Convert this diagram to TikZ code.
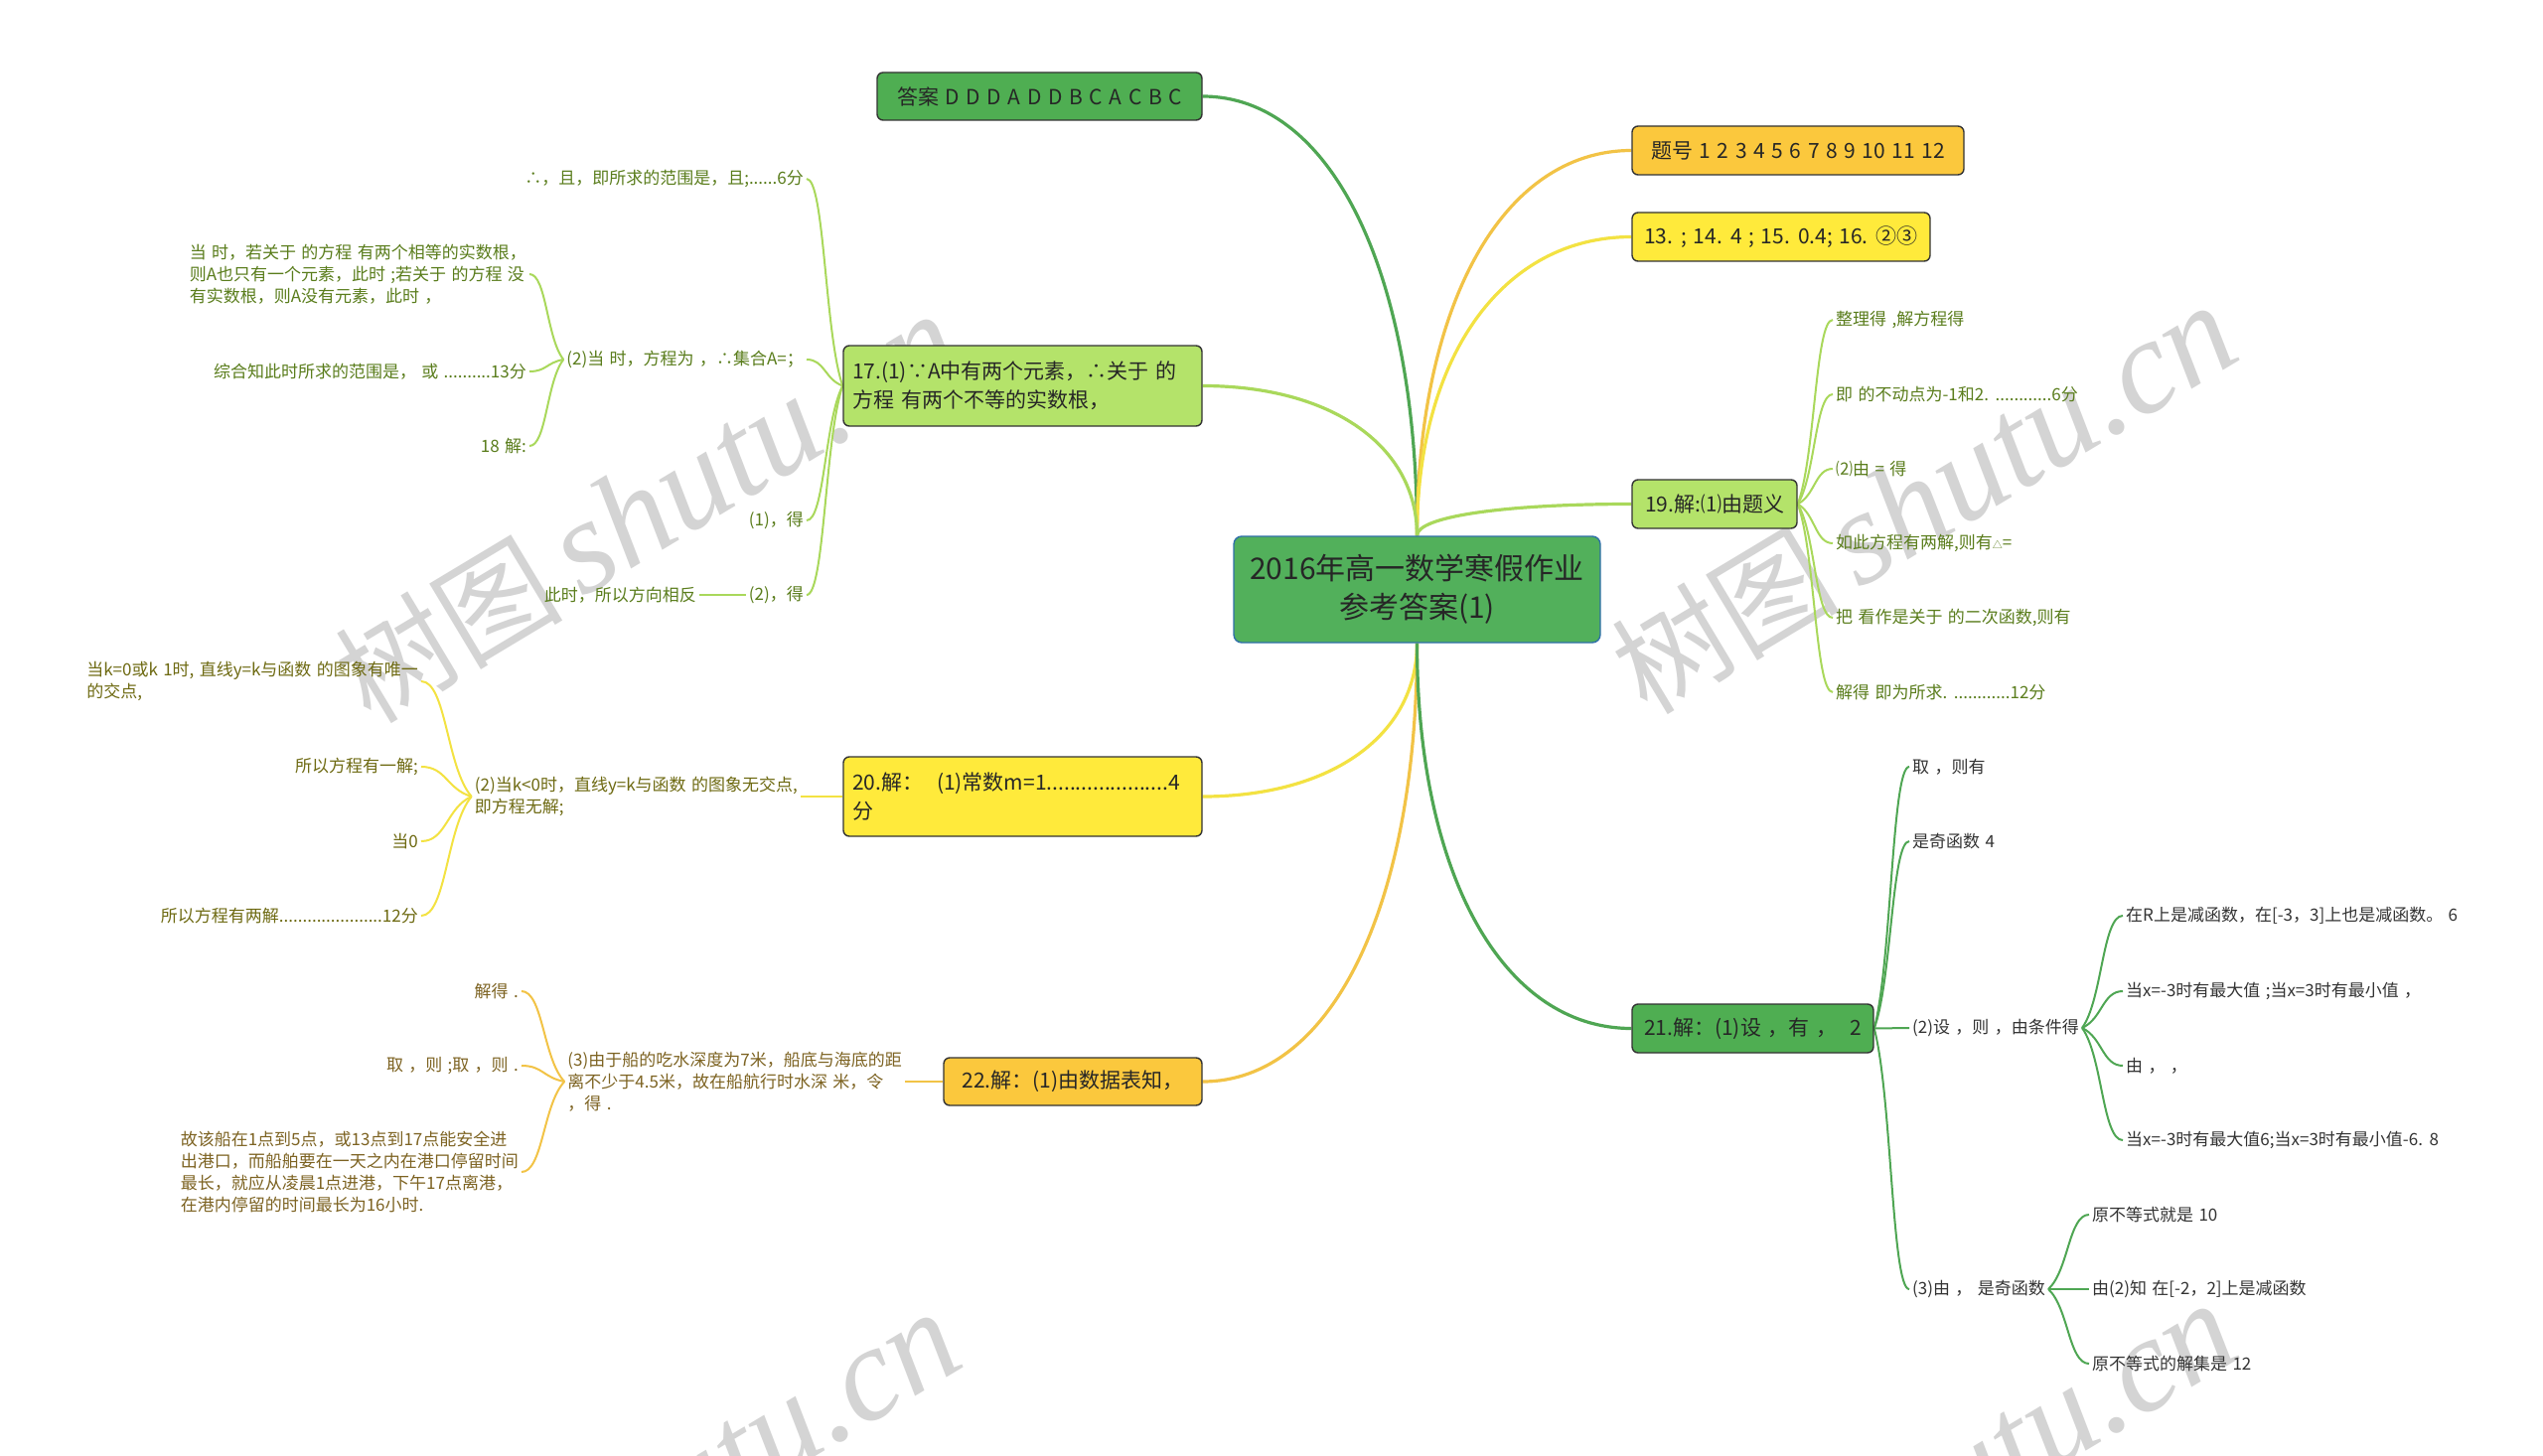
\documentclass[tikz,border=0pt]{standalone}
\usepackage{fontspec}
\setmainfont{Noto Sans CJK SC}[WordSpace=1.4]
\newfontfamily\wmfont{Liberation Serif}
\usetikzlibrary{calc,backgrounds}
\definecolor{cgreen}{HTML}{4FAE52}
\definecolor{cgreenline}{HTML}{4FA653}
\definecolor{clime}{HTML}{B4E36A}
\definecolor{climeline}{HTML}{A9D85B}
\definecolor{cyellow}{HTML}{FFEA3B}
\definecolor{cyellowline}{HTML}{F3E242}
\definecolor{corange}{HTML}{FBC83D}
\definecolor{corangeline}{HTML}{F2C346}
\definecolor{ccenter}{HTML}{52B05B}
\definecolor{ccenterborder}{HTML}{2F6FA8}
\definecolor{tlime}{HTML}{5A7D1C}
\definecolor{tyellow}{HTML}{6E6A12}
\definecolor{torange}{HTML}{7D6322}
\definecolor{tdark}{HTML}{333333}
\definecolor{wm}{HTML}{D4D4D4}
\begin{document}
\begin{tikzpicture}[x=1pt,y=1pt,
  box/.style={draw=black!80, line width=1.4pt, rounded corners=6pt, inner sep=0pt, text=black!85, font=\fontsize{21}{29}\selectfont},
  leaf/.style={inner sep=3pt, align=left, font=\fontsize{17}{22}\selectfont},
  trunk/.style={line width=3.2pt, to path={let \p1=(\tikztostart), \p2=(\tikztotarget) in .. controls (\x1,{\y1+0.6*(\y2-\y1)}) and ({\x1+0.4*(\x2-\x1)},\y2) .. (\tikztotarget)}},
  kid/.style={line width=2pt, to path={let \p1=(\tikztostart), \p2=(\tikztotarget) in .. controls ({\x1+0.5*(\x2-\x1)},{\y1+0.25*(\y2-\y1)}) and ({\x1+0.5*(\x2-\x1)},\y2) .. (\tikztotarget)}},
  wmark/.style={rotate=31, text=wm, font=\fontsize{115}{115}\selectfont, inner sep=0pt}
]
\useasboundingbox (0,0) rectangle (2560,-1466);
\clip (0,0) rectangle (2560,-1466);

% centre
\node[draw=ccenterborder, fill=ccenter, line width=1.4pt, rounded corners=8pt, minimum width=369pt, minimum height=107pt, align=center, text=black!85, font=\fontsize{30}{39}\selectfont] (c) at (1426.5,-593.5) {2016年高一数学寒假作业\\参考答案(1)};

% main branches
\node[box, fill=cgreen, minimum width=327pt, minimum height=48pt] (ans) at (1046.5,-97) {答案 D D D A D D B C A C B C};
\node[box, fill=corange, minimum width=334pt, minimum height=49pt] (q0) at (1810,-151.5) {题号 1 2 3 4 5 6 7 8 9 10 11 12};
\node[box, fill=cyellow, minimum width=300pt, minimum height=49pt] (q13) at (1793,-238.5) {13. ; 14. 4 ; 15. 0.4; 16. ②③};
\node[box, fill=clime, minimum width=166pt, minimum height=49pt] (q19) at (1726,-507.5) {19.解:⑴由题义};
\node[box, fill=cgreen, minimum width=243pt, minimum height=49pt] (q21) at (1764.5,-1035.5) {21.解：(1)设 ，有 ，\ \ 2};
\node[box, fill=clime, minimum width=361pt, minimum height=81pt, text width=343pt, align=left] (q17) at (1029.5,-388.5) {17.(1)∵A中有两个元素，∴关于 的\\方程 有两个不等的实数根，};
\node[box, fill=cyellow, minimum width=361pt, minimum height=80pt, text width=343pt, align=left] (q20) at (1029.5,-802) {20.解：\ \ (1)常数m=1.....................4\\分};
\node[box, fill=corange, minimum width=260pt, minimum height=48pt] (q22) at (1080,-1089) {22.解：(1)由数据表知，};

% 17 subtree
\begin{scope}[every node/.style={leaf, text=tlime, anchor=east}]
\node (a1) at (812,-180) {∴，且，即所求的范围是，且;......6分};
\node (a2) at (812,-362) {(2)当 时，方程为 ，∴集合A=；};
\node (a3) at (812,-524) {(1)，得};
\node (a4) at (812,-599) {(2)，得};
\node (a4a) at (704,-599) {此时，所以方向相反};
\node (b1) at (533,-276) {当 时，若关于 的方程 有两个相等的实数根，\\则A也只有一个元素，此时 ;若关于 的方程 没\\有实数根，则A没有元素，此时 ，};
\node (b2) at (533,-374) {综合知此时所求的范围是， 或 ..........13分};
\node (b3) at (533,-449) {18 解:};
\end{scope}

% 20 subtree
\begin{scope}[every node/.style={leaf, text=tyellow, anchor=east}]
\node (d0) at (806,-802) {(2)当k<0时，直线y=k与函数 的图象无交点,\\即方程无解;};
\node (d1) at (424,-686) {当k=0或k 1时, 直线y=k与函数 的图象有唯一\\的交点,};
\node (d2) at (424,-772) {所以方程有一解;};
\node (d3) at (424,-847) {当0};
\node (d4) at (424,-922) {所以方程有两解......................12分};
\end{scope}

% 22 subtree
\begin{scope}[every node/.style={leaf, text=torange, anchor=east}]
\node (e0) at (911,-1089) {(3)由于船的吃水深度为7米，船底与海底的距\\离不少于4.5米，故在船航行时水深 米，令\\，得 .};
\node (f1) at (525,-998) {解得 .};
\node (f2) at (525,-1073) {取 ，则 ;取 ，则 .};
\node (f3) at (525,-1180) {故该船在1点到5点，或13点到17点能安全进\\出港口，而船舶要在一天之内在港口停留时间\\最长，就应从凌晨1点进港，下午17点离港，\\在港内停留的时间最长为16小时.};
\end{scope}

% 19 subtree
\begin{scope}[every node/.style={leaf, text=tlime, anchor=west}]
\node (g1) at (1845,-322) {整理得 ,解方程得};
\node (g2) at (1845,-397) {即 的不动点为-1和2. ............6分};
\node (g3) at (1845,-472) {⑵由 = 得};
\node (g4) at (1845,-547) {如此方程有两解,则有{\fontsize{10}{10}\selectfont △}=};
\node (g5) at (1845,-622) {把 看作是关于 的二次函数,则有};
\node (g6) at (1845,-697) {解得 即为所求. ............12分};
\end{scope}

% 21 subtree
\begin{scope}[every node/.style={leaf, text=tdark, anchor=west}]
\node (h1) at (1922,-772) {取 ，则有};
\node (h2) at (1922,-847) {是奇函数 4};
\node (h3) at (1922,-1035) {(2)设 ，则 ，由条件得};
\node (h4) at (1922,-1298) {(3)由 ， 是奇函数};
\node (i1) at (2137,-922) {在R上是减函数，在[-3，3]上也是减函数。 6};
\node (i2) at (2137,-998) {当x=-3时有最大值 ;当x=3时有最小值 ，};
\node (i3) at (2137,-1073) {由 ， ，};
\node (i4) at (2137,-1148) {当x=-3时有最大值6;当x=3时有最小值-6. 8};
\node (j1) at (2103,-1223) {原不等式就是 10};
\node (j2) at (2103,-1298) {由(2)知 在[-2，2]上是减函数};
\node (j3) at (2103,-1373) {原不等式的解集是 12};
\end{scope}

\begin{scope}[on background layer]
\fill[white] (0,0) rectangle (2560,-1466);
\node[wmark] (w1) at (652,-512) {树图\,{\wmfont\itshape\fontsize{135}{135}\selectfont shutu.cn}};
\node[wmark] (w2) at (1937,-503) {树图\,{\wmfont\itshape\fontsize{135}{135}\selectfont shutu.cn}};
\node[wmark] (w3) at (652,-1517) {树图\,{\wmfont\itshape\fontsize{135}{135}\selectfont shutu.cn}};
\node[wmark] (w4) at (1937,-1508) {树图\,{\wmfont\itshape\fontsize{135}{135}\selectfont shutu.cn}};

% trunks
\draw[trunk, draw=cgreenline] (c.north) to (ans.east);
\draw[trunk, draw=corangeline] (c.north) to (q0.west);
\draw[trunk, draw=cyellowline] (c.north) to (q13.west);
\draw[trunk, draw=climeline] (c.north) to (q17.east);
\draw[trunk, draw=climeline] (c.north) to (q19.west);
\draw[trunk, draw=cyellowline] (c.south) to (q20.east);
\draw[trunk, draw=corangeline] (c.south) to (q22.east);
\draw[trunk, draw=cgreenline] (c.south) to (q21.west);

% 17
\foreach \nd in {a1,a2,a3,a4} \draw[kid, draw=climeline] (q17.west) to (\nd.east);
\draw[line width=2pt, climeline] (a4.west) -- (a4a.east);
\foreach \nd in {b1,b2,b3} \draw[kid, draw=climeline] (a2.west) to (\nd.east);
% 20
\draw[line width=2pt, cyellowline] (q20.west) -- (d0.east);
\foreach \nd in {d1,d2,d3,d4} \draw[kid, draw=cyellowline] (d0.west) to (\nd.east);
% 22
\draw[line width=2pt, corangeline] (q22.west) -- (e0.east);
\foreach \nd in {f1,f2,f3} \draw[kid, draw=corangeline] (e0.west) to (\nd.east);
% 19
\foreach \nd in {g1,g2,g3,g4,g5,g6} \draw[kid, draw=climeline] (q19.east) to (\nd.west);
% 21
\foreach \nd in {h1,h2,h3,h4} \draw[kid, draw=cgreenline] (q21.east) to (\nd.west);
\foreach \nd in {i1,i2,i3,i4} \draw[kid, draw=cgreenline] (h3.east) to (\nd.west);
\foreach \nd in {j1,j2,j3} \draw[kid, draw=cgreenline] (h4.east) to (\nd.west);
\end{scope}
\end{tikzpicture}
\end{document}
